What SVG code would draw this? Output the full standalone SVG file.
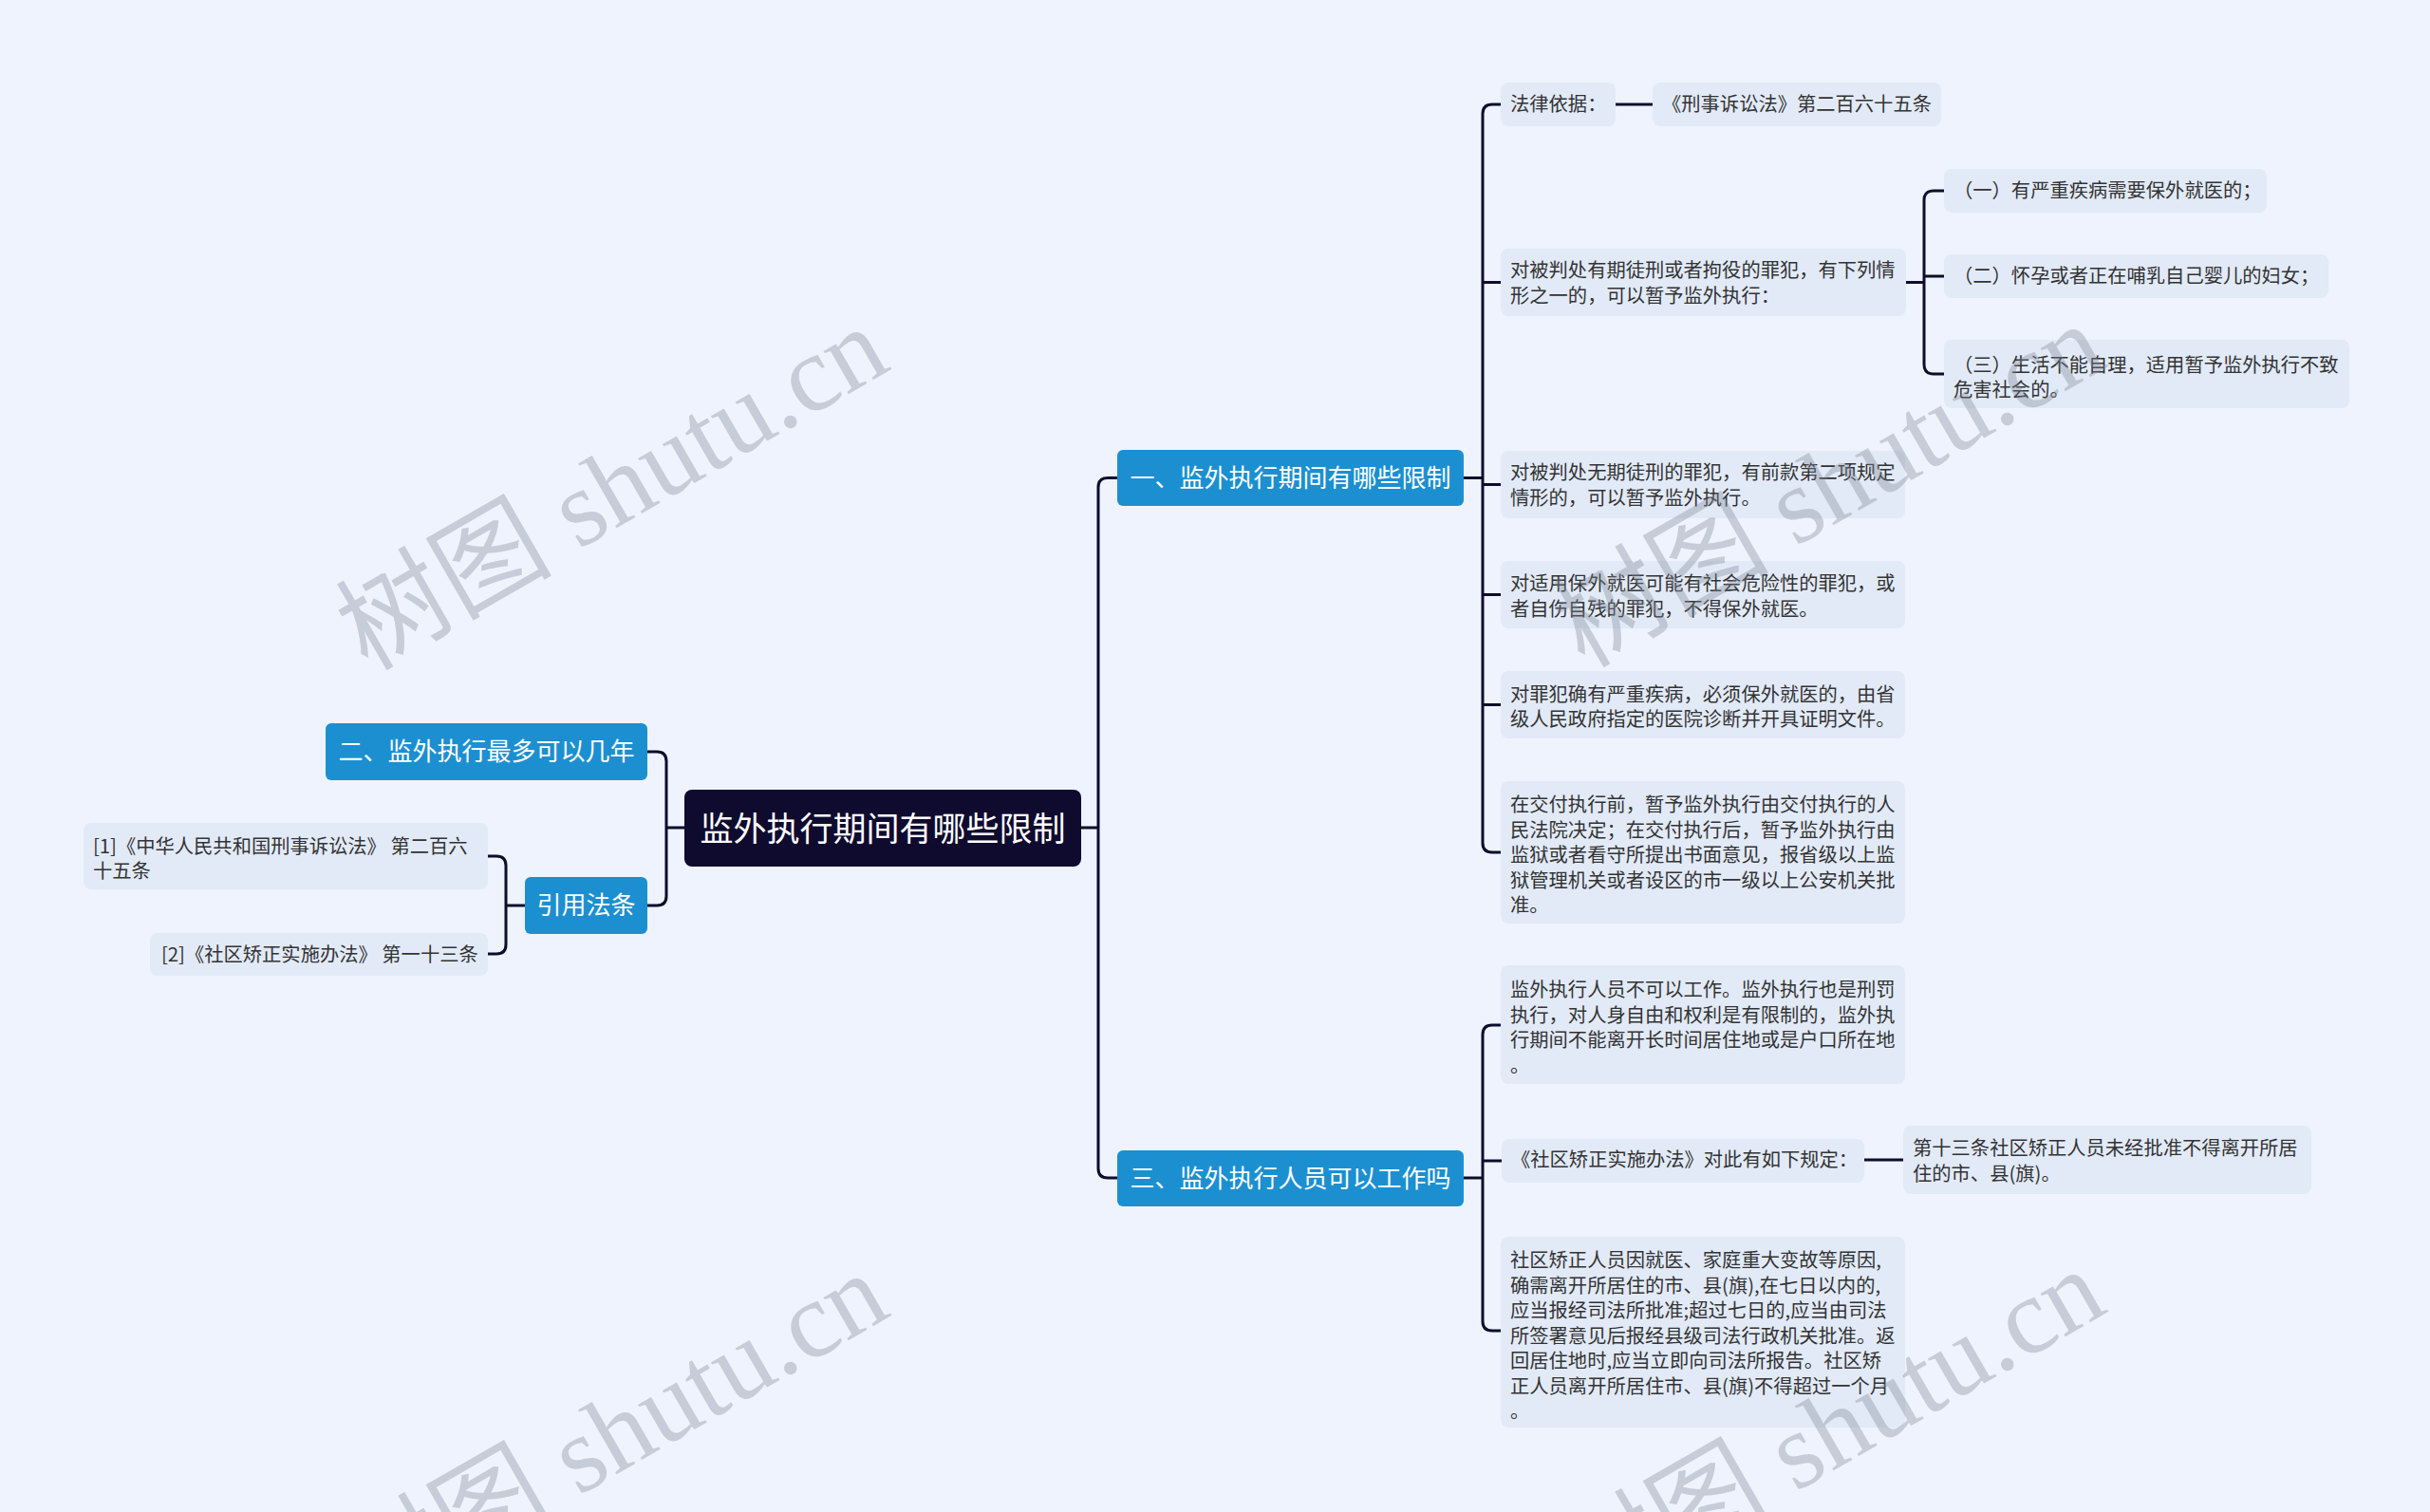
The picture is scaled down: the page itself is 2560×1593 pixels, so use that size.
<svg xmlns="http://www.w3.org/2000/svg" width="2560" height="1593" viewBox="0 0 2560 1593">
<style>
.bg{fill:#eef3fd}
.leaf rect{fill:#e2eaf8}
.leaf text{font-family:"Noto Sans CJK SC","Noto Sans",sans-serif;font-size:20.3px;fill:#333}
.l1 rect{fill:#1c8fd1}
.l1 text{font-family:"Noto Sans CJK SC","Noto Sans",sans-serif;font-size:26px;fill:#fff;text-anchor:middle}
.root rect{fill:#0f0b2e}
.root text{font-family:"Noto Sans CJK SC","Noto Sans",sans-serif;font-size:35px;fill:#fff;text-anchor:middle}
.conn path{fill:none;stroke:#0f0c2c;stroke-width:3}
.wm text{font-family:"Liberation Serif","Noto Sans CJK SC",serif;font-size:114px;fill:#7f8896;fill-opacity:0.36;text-anchor:middle}
</style>
<rect class="bg" x="0" y="0" width="2560" height="1593"/>
<g class="conn">
<path d="M1139,872 H1157"/>
<path d="M1177,503.5 H1167 Q1157,503.5 1157,513.5 V1231 Q1157,1241 1167,1241 H1177"/>
<path d="M721,872 H702"/>
<path d="M682,792 H692 Q702,792 702,802 V944 Q702,954 692,954 H682"/>
<path d="M553,954 H533"/>
<path d="M514,902 H523 Q533,902 533,912 V995 Q533,1005 523,1005 H514"/>
<path d="M1542,503.5 H1562"/>
<path d="M1581,110 H1572 Q1562,110 1562,120 V888 Q1562,898 1572,898 H1581"/>
<path d="M1562,297.5 H1581"/>
<path d="M1562,510.5 H1581"/>
<path d="M1562,626.5 H1581"/>
<path d="M1562,742.5 H1581"/>
<path d="M1702,110 H1741"/>
<path d="M2008,297.5 H2027"/>
<path d="M2048,201 H2037 Q2027,201 2027,211 V384 Q2027,394 2037,394 H2048"/>
<path d="M2027,291 H2048"/>
<path d="M1542,1241 H1562"/>
<path d="M1581,1080 H1572 Q1562,1080 1562,1090 V1392 Q1562,1402 1572,1402 H1581"/>
<path d="M1562,1223 H1582"/>
<path d="M1964,1222 H2005"/>
</g>
<g id="root" class="root"><rect x="721" y="832" width="418" height="81" rx="8"/><text x="930" y="886">监外执行期间有哪些限制</text></g>
<g id="b1" class="l1"><rect x="1177" y="474" width="365" height="59" rx="6"/><text x="1359.5" y="513">一、监外执行期间有哪些限制</text></g>
<g id="b3" class="l1"><rect x="1177" y="1212" width="365" height="59" rx="6"/><text x="1359.5" y="1251">三、监外执行人员可以工作吗</text></g>
<g id="b2" class="l1"><rect x="343" y="762" width="339" height="60" rx="6"/><text x="512.5" y="801">二、监外执行最多可以几年</text></g>
<g id="cite" class="l1"><rect x="553" y="924" width="129" height="60" rx="6"/><text x="617.5" y="963">引用法条</text></g>
<g id="nA" class="leaf"><rect x="1581" y="87" width="121" height="46" rx="8"/><text x="1591" y="117">法律依据：</text></g>
<g id="nB" class="leaf"><rect x="1741" y="87" width="304" height="46" rx="8"/><text x="1751" y="117">《刑事诉讼法》第二百六十五条</text></g>
<g id="nC" class="leaf"><rect x="1581" y="262" width="427" height="71" rx="8"/><text x="1591" y="292">对被判处有期徒刑或者拘役的罪犯，有下列情</text><text x="1591" y="318.5">形之一的，可以暂予监外执行：</text></g>
<g id="nD" class="leaf"><rect x="2048" y="178" width="340" height="46" rx="8"/><text x="2058" y="208">（一）有严重疾病需要保外就医的；</text></g>
<g id="nE" class="leaf"><rect x="2048" y="268" width="405" height="46" rx="8"/><text x="2058" y="298">（二）怀孕或者正在哺乳自己婴儿的妇女；</text></g>
<g id="nF" class="leaf"><rect x="2048" y="358" width="427" height="72" rx="8"/><text x="2058" y="391.5">（三）生活不能自理，适用暂予监外执行不致</text><text x="2058" y="418">危害社会的。</text></g>
<g id="nG" class="leaf"><rect x="1581" y="475" width="426" height="71" rx="8"/><text x="1591" y="505">对被判处无期徒刑的罪犯，有前款第二项规定</text><text x="1591" y="531.5">情形的，可以暂予监外执行。</text></g>
<g id="nH" class="leaf"><rect x="1581" y="591" width="426" height="71" rx="8"/><text x="1591" y="622">对适用保外就医可能有社会危险性的罪犯，或</text><text x="1591" y="648.5">者自伤自残的罪犯，不得保外就医。</text></g>
<g id="nI" class="leaf"><rect x="1581" y="707" width="426" height="71" rx="8"/><text x="1591" y="738.5">对罪犯确有严重疾病，必须保外就医的，由省</text><text x="1591" y="765">级人民政府指定的医院诊断并开具证明文件。</text></g>
<g id="nJ" class="leaf"><rect x="1581" y="823" width="426" height="150" rx="8"/><text x="1591" y="855">在交付执行前，暂予监外执行由交付执行的人</text><text x="1591" y="881.5">民法院决定；在交付执行后，暂予监外执行由</text><text x="1591" y="908">监狱或者看守所提出书面意见，报省级以上监</text><text x="1591" y="934.5">狱管理机关或者设区的市一级以上公安机关批</text><text x="1591" y="961">准。</text></g>
<g id="nK" class="leaf"><rect x="1581" y="1017" width="426" height="125" rx="8"/><text x="1591" y="1050">监外执行人员不可以工作。监外执行也是刑罚</text><text x="1591" y="1076.5">执行，对人身自由和权利是有限制的，监外执</text><text x="1591" y="1103">行期间不能离开长时间居住地或是户口所在地</text><text x="1591" y="1129.5">。</text></g>
<g id="nL" class="leaf"><rect x="1582" y="1200" width="382" height="46" rx="8"/><text x="1592" y="1229">《社区矫正实施办法》对此有如下规定：</text></g>
<g id="nM" class="leaf"><rect x="2005" y="1186" width="430" height="72" rx="8"/><text x="2015" y="1217">第十三条社区矫正人员未经批准不得离开所居</text><text x="2015" y="1243.5">住的市、县(旗)。</text></g>
<g id="nN" class="leaf"><rect x="1581" y="1303" width="426" height="201" rx="8"/><text x="1591" y="1335">社区矫正人员因就医、家庭重大变故等原因,</text><text x="1591" y="1361.5">确需离开所居住的市、县(旗),在七日以内的,</text><text x="1591" y="1388">应当报经司法所批准;超过七日的,应当由司法</text><text x="1591" y="1414.5">所签署意见后报经县级司法行政机关批准。返</text><text x="1591" y="1441">回居住地时,应当立即向司法所报告。社区矫</text><text x="1591" y="1467.5">正人员离开所居住市、县(旗)不得超过一个月</text><text x="1591" y="1494">。</text></g>
<g id="nP" class="leaf"><rect x="88" y="867" width="426" height="70" rx="8"/><text x="98" y="898.5">[1]《中华人民共和国刑事诉讼法》 第二百六</text><text x="98" y="925">十五条</text></g>
<g id="nQ" class="leaf"><rect x="158" y="983" width="356" height="45" rx="8"/><text x="170" y="1013">[2]《社区矫正实施办法》 第一十三条</text></g>
<g class="wm">
<text transform="translate(645,515) rotate(-30)" x="0" y="38">树图 shutu.cn</text>
<text transform="translate(1927,512) rotate(-30)" x="0" y="38">树图 shutu.cn</text>
<text transform="translate(645,1512) rotate(-30)" x="0" y="38">树图 shutu.cn</text>
<text transform="translate(1927,1508) rotate(-30)" x="0" y="38">树图 shutu.cn</text>
</g>
</svg>
